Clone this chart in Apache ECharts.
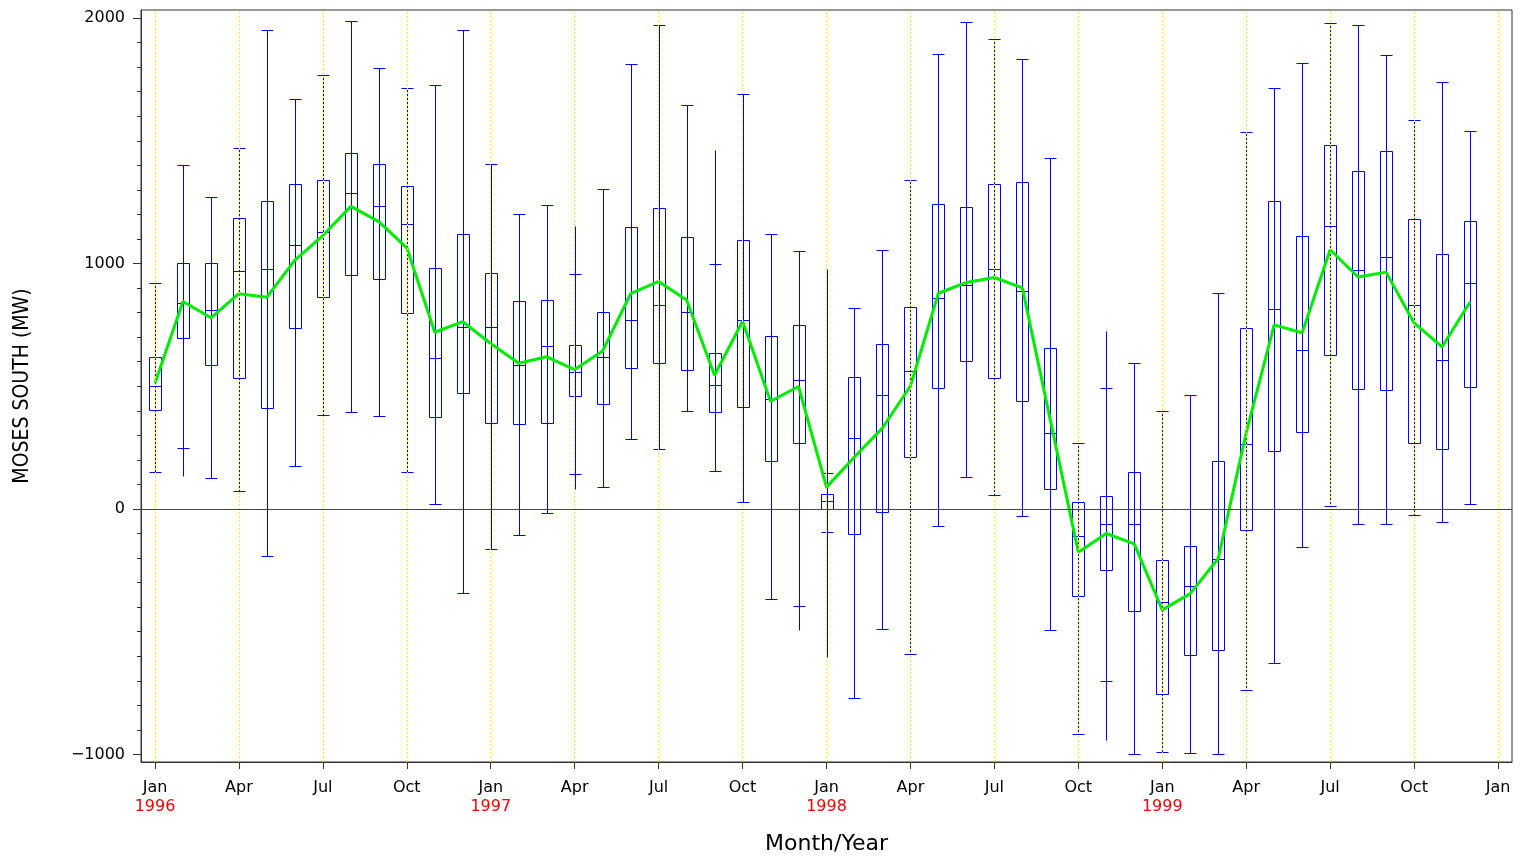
<!DOCTYPE html>
<html>
<head>
<meta charset="utf-8">
<title>Moses South monthly distribution</title>
<script src="https://cdn.jsdelivr.net/npm/echarts@6/dist/echarts.min.js"></script>
<style>
  html, body { margin: 0; padding: 0; background: #ffffff; }
  #chart { width: 1533px; height: 857px; }
</style>
</head>
<body>
<div id="chart"></div>
<script>
// Months Jan 1996 .. Jan 2000 (the last one only carries an axis tick)
const monthNames = ['Jan','Feb','Mar','Apr','May','Jun','Jul','Aug','Sep','Oct','Nov','Dec'];
const startYear = 1996;
const monthCount = 48;

// Axis tick positions (month index) and y tick values
const xTickMonths = [0, 3, 6, 9, 12, 15, 18, 21, 24, 27, 30, 33, 36, 39, 42, 45, 48];
const yMajorTicks = [-1000, 0, 1000, 2000];
const yMinorTicks = [];
for (let v = -1000; v <= 2000; v += 100) yMinorTicks.push(v);

// Monthly statistics, MW
const maxVals = [919, 1400, 1273, 1470, 1950, 1671, 1768, 1987, 1798, 1717, 1729, 1950,
                 1404, 1201, 1239, 1152, 1305, 1812, 1973, 1645, 1462, 1689, 1120, 1050,
                 978, 817, 1056, 1341, 1852, 1985, 1916, 1832, 1430, 270, 726, 596,
                 401, 465, 879, 1534, 1715, 1816, 1981, 1971, 1848, 1583, 1741, 1542];
const capHiVals = [919, 1400, 1273, 1470, 1950, 1671, 1768, 1987, 1798, 1717, 1729, 1950,
                   1404, 1201, 1239, 959, 1305, 1812, 1973, 1645, 1000, 1689, 1120, 1050,
                   147, 817, 1056, 1341, 1852, 1985, 1916, 1832, 1430, 270, 493, 596,
                   401, 465, 879, 1534, 1715, 1816, 1981, 1971, 1848, 1583, 1741, 1542];
const q3Vals = [620, 1004, 1002, 1185, 1255, 1325, 1339, 1450, 1406, 1315, 980, 1122,
                962, 847, 853, 668, 801, 1148, 1227, 1110, 636, 1094, 706, 750,
                59, 537, 672, 821, 1241, 1229, 1325, 1331, 656, 29, 53, 151,
                -206, -152, 194, 736, 1253, 1114, 1482, 1378, 1460, 1181, 1038, 1173];
const medianVals = [499, 841, 811, 970, 978, 1076, 1128, 1289, 1233, 1162, 616, 740,
                    740, 588, 664, 559, 620, 771, 831, 801, 507, 771, 449, 527,
                    33, 288, 463, 561, 859, 913, 978, 889, 308, -112, -62, -60,
                    -381, -315, -204, 266, 815, 646, 1152, 972, 1028, 833, 606, 921];
const q1Vals = [405, 696, 586, 533, 411, 738, 865, 952, 937, 797, 373, 473,
                350, 348, 352, 459, 427, 576, 596, 566, 395, 417, 194, 268,
                0, -102, -11, 212, 491, 604, 533, 441, 81, -355, -249, -417,
                -753, -594, -574, -86, 238, 312, 628, 487, 485, 268, 246, 495];
const capLoVals = [151, 248, 125, 75, -190, 174, 383, 395, 379, 151, 19, -341,
                   -162, -106, -17, 143, 89, 284, 244, 399, 156, 27, -365, -397,
                   -92, -769, -488, -592, -70, 129, 57, -27, -494, -916, -703, -998,
                   -992, -996, -998, -737, -627, -156, 11, -62, -62, -23, -54, 21];
const minVals = [151, 133, 125, 75, -190, 174, 383, 395, 379, 151, 19, -341,
                 -162, -106, -17, 83, 89, 284, 244, 399, 156, 27, -365, -494,
                 -604, -769, -488, -592, -70, 129, 57, -27, -494, -916, -942, -998,
                 -992, -996, -998, -737, -627, -156, 11, -62, -62, -23, -54, 21];
const meanVals = [512, 845, 779, 877, 863, 1014, 1114, 1233, 1171, 1064, 720, 763,
                  674, 594, 620, 568, 644, 877, 927, 851, 545, 765, 439, 499,
                  89, 212, 330, 501, 879, 923, 943, 901, 362, -176, -100, -142,
                  -411, -345, -202, 310, 750, 718, 1056, 945, 965, 758, 660, 843];

const boxData = maxVals.map((_, i) => [i, maxVals[i], capHiVals[i], q3Vals[i],
  medianVals[i], q1Vals[i], capLoVals[i], minVals[i]]);
const meanData = meanVals.map((v, i) => [i, v]);

const BLUE = '#0000ff';
const TICK_FONT = 'DejaVu Sans';
const NARROW_FONT = "'Liberation Sans Narrow', 'DejaVu Sans Condensed', 'Roboto Condensed', 'Liberation Sans', sans-serif";

function monthLabel(idx) {
  const m = ((idx % 12) + 12) % 12;
  const name = monthNames[m];
  if (m === 0 && idx < monthCount) {
    return name + '\n{yr|' + (startYear + Math.floor(idx / 12)) + '}';
  }
  return name;
}

function renderBox(params, api) {
  const xv = api.value(0);
  const px = (k) => api.coord([xv, api.value(k)]);
  const cx = Math.round(px(1)[0]) + 0.5;
  const half = Math.round(api.size([1, 0])[0] * 0.215);
  const y = (k) => Math.round(px(k)[1]) + 0.5;
  const style = { stroke: BLUE, lineWidth: 1, fill: null };
  const hline = (yy) => ({ type: 'line', shape: { x1: cx - half, y1: yy, x2: cx + half, y2: yy }, style });
  const yMax = y(1), yCapHi = y(2), yQ3 = y(3), yMed = y(4), yQ1 = y(5), yCapLo = y(6), yMin = y(7);
  return {
    type: 'group',
    children: [
      { type: 'line', shape: { x1: cx, y1: yMax, x2: cx, y2: yMin }, style },
      { type: 'rect', shape: { x: cx - half, y: yQ3, width: half * 2, height: yQ1 - yQ3 }, style },
      hline(yMed),
      hline(yCapHi),
      hline(yCapLo)
    ]
  };
}

const chart = echarts.init(document.getElementById('chart'), null, { renderer: 'canvas' });
chart.setOption({
  animation: false,
  backgroundColor: '#ffffff',
  grid: {
    left: 141, right: 21, top: 10, bottom: 95,
    outerBoundsMode: 'none',
    containLabel: false,
    show: true, borderColor: '#333', borderWidth: 1, backgroundColor: 'transparent'
  },
  xAxis: {
    type: 'value',
    min: -0.5,
    max: 48.5,
    name: 'Month/Year',
    nameLocation: 'middle',
    nameGap: 71,
    nameTextStyle: { fontFamily: TICK_FONT, fontSize: 22, color: '#000' },
    axisLine: { show: true, onZero: false, lineStyle: { color: '#333', width: 1 } },
    axisTick: { show: true, customValues: xTickMonths, length: 7, lineStyle: { color: '#333' } },
    axisLabel: {
      customValues: xTickMonths,
      formatter: (v) => monthLabel(Math.round(v)),
      fontFamily: TICK_FONT, fontSize: 16, color: '#000', margin: 16, lineHeight: 19,
      rich: { yr: { fontFamily: TICK_FONT, fontSize: 16, color: '#ff0000', lineHeight: 19 } }
    },
    splitLine: { show: false }
  },
  yAxis: [
    {
      type: 'value',
      min: -1031,
      max: 2033,
      name: 'MOSES SOUTH (MW)',
      nameLocation: 'middle',
      nameGap: 108,
      nameTextStyle: { fontFamily: NARROW_FONT, fontSize: 21, color: '#000' },
      axisLine: { show: true, onZero: false, lineStyle: { color: '#333', width: 1 } },
      axisTick: { show: true, customValues: yMajorTicks, length: 8, lineStyle: { color: '#333' } },
      axisLabel: {
        customValues: yMajorTicks,
        formatter: (v) => (v < 0 ? '\u2212' + Math.abs(v) : String(v)),
        fontFamily: TICK_FONT, fontSize: 16, color: '#000', margin: 16
      },
      splitLine: { show: false }
    },
    {
      type: 'value',
      min: -1031,
      max: 2033,
      position: 'left',
      offset: 0,
      axisLine: { show: false, onZero: false },
      axisTick: { show: true, inside: false, customValues: yMinorTicks, length: 4, lineStyle: { color: '#333' } },
      axisLabel: { show: false },
      splitLine: { show: false }
    }
  ],
  series: [
    {
      name: 'guides',
      type: 'line',
      data: [],
      z: 1,
      silent: true,
      markLine: {
        silent: true,
        symbol: ['none', 'none'],
        label: { show: false },
        animation: false,
        data: xTickMonths.map((m) => ({
          xAxis: m,
          lineStyle: { color: '#ffee00', type: [2, 2], width: 1 }
        })).concat([{
          yAxis: 0,
          lineStyle: { color: '#444', type: 'solid', width: 1 }
        }])
      }
    },
    {
      name: 'distribution',
      type: 'custom',
      z: 2,
      silent: true,
      renderItem: renderBox,
      encode: { x: 0, y: [1, 2, 3, 4, 5, 6, 7] },
      data: boxData
    },
    {
      name: 'mean',
      type: 'line',
      z: 3,
      silent: true,
      symbol: 'none',
      data: meanData,
      lineStyle: { color: '#00ee00', width: 3 },
      itemStyle: { color: '#00ee00' }
    }
  ]
});
</script>
</body>
</html>
